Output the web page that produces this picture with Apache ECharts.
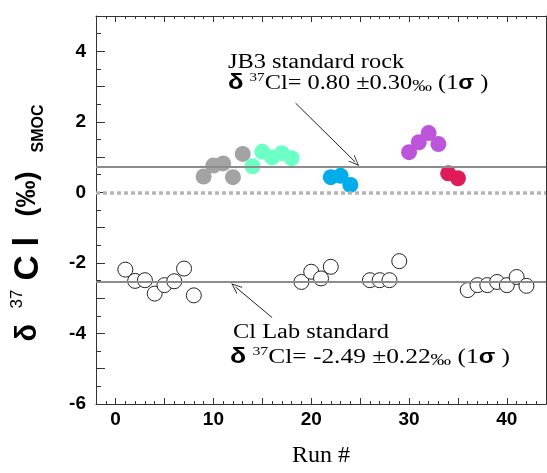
<!DOCTYPE html>
<html>
<head>
<meta charset="utf-8">
<script src="https://cdn.jsdelivr.net/npm/echarts@6/dist/echarts.min.js"></script>
<style>
  html, body { margin: 0; padding: 0; background: #fff; }
  #main { width: 547px; height: 473px; }
</style>
</head>
<body>
<div id="main"></div>
<script>
// JB3 standard rock, by colour group
var grayRuns = [9, 10, 11, 12, 13];
var grayVals = [0.45, 0.76, 0.82, 0.43, 1.09];
var greenRuns = [14, 15, 16, 17, 18];
var greenVals = [0.74, 1.15, 0.99, 1.11, 0.97];
var blueRuns = [22, 23, 24];
var blueVals = [0.43, 0.47, 0.21];
var purpleRuns = [30, 31, 32, 33];
var purpleVals = [1.14, 1.42, 1.68, 1.37];
var redRuns = [34, 35];
var redVals = [0.54, 0.40];

// Cl lab standard
var labRuns = [1, 2, 3, 4, 5, 6, 7, 8, 19, 20, 21, 22, 26, 27, 28, 29, 36, 37, 38, 39, 40, 41, 42];
var labVals = [-2.19, -2.51, -2.49, -2.87, -2.63, -2.52, -2.16, -2.92,
  -2.54, -2.25, -2.44, -2.11, -2.49, -2.49, -2.49, -1.95,
  -2.77, -2.63, -2.63, -2.54, -2.63, -2.40, -2.65];

// mean lines
var jb3Mean = 0.72;
var labMean = -2.53;
var zeroLine = 0;

var xLabels = [0, 10, 20, 30, 40];
var xMajor = [0, 5, 10, 15, 20, 25, 30, 35, 40];
var yLabels = [-6, -4, -2, 0, 2, 4];

function pairs(xs, ys) {
  var out = [];
  for (var i = 0; i < xs.length; i++) out.push([xs[i], ys[i]]);
  return out;
}

var chart = echarts.init(document.getElementById('main'));
var axisColor = '#333';
var serif = '"Liberation Serif", "DejaVu Serif", serif';
var sans = '"Liberation Sans", Arial, sans-serif';

function dotSeries(data, color) {
  return {
    type: 'scatter',
    data: data,
    symbolSize: 16,
    z: 3,
    itemStyle: { color: color, opacity: 1 }
  };
}

// second line of each note: δ 37Cl= ... ‰ (1σ )
var noteRich = {
  d: { fontFamily: sans, fontWeight: 'bold', fontSize: 22, lineHeight: 24 },
  t: { fontFamily: serif, fontSize: 21, lineHeight: 24 },
  sup: { fontFamily: serif, fontSize: 13, lineHeight: 14, verticalAlign: 'top' },
  pm: { fontFamily: serif, fontSize: 17, lineHeight: 22, verticalAlign: 'bottom' },
  s: { fontFamily: sans, fontWeight: 'bold', fontSize: 20, lineHeight: 24 }
};

var option = {
  animation: false,
  grid: { left: 96, right: 1, top: 16, bottom: 67 },
  xAxis: [{
    type: 'value', min: -2, max: 44, interval: 1, position: 'bottom',
    axisLine: { onZero: false, lineStyle: { color: axisColor, width: 1 } },
    axisTick: { inside: true, length: 3, lineStyle: { color: axisColor } },
    axisLabel: { customValues: xLabels, margin: 6, color: '#000', fontFamily: sans, fontWeight: 'bold', fontSize: 19 },
    splitLine: { show: false },
    name: 'Run #', nameLocation: 'middle', nameGap: 40,
    nameTextStyle: { fontFamily: serif, fontSize: 24, color: '#000' }
  }, {
    type: 'value', min: -2, max: 44, position: 'bottom',
    axisLine: { show: false, onZero: false },
    axisTick: { inside: true, length: 6, customValues: xMajor, lineStyle: { color: axisColor } },
    axisLabel: { show: false }, splitLine: { show: false }
  }, {
    type: 'value', min: -2, max: 44, interval: 1, position: 'top',
    axisLine: { onZero: false, lineStyle: { color: axisColor, width: 1 } },
    axisTick: { inside: true, length: 3, lineStyle: { color: axisColor } },
    axisLabel: { show: false }, splitLine: { show: false }
  }, {
    type: 'value', min: -2, max: 44, position: 'top',
    axisLine: { show: false, onZero: false },
    axisTick: { inside: true, length: 6, customValues: xMajor, lineStyle: { color: axisColor } },
    axisLabel: { show: false }, splitLine: { show: false }
  }],
  yAxis: [{
    type: 'value', min: -6, max: 5, interval: 1, position: 'left',
    axisLine: { show: true, onZero: false, lineStyle: { color: axisColor, width: 1 } },
    axisTick: { show: true, inside: true, length: 9, lineStyle: { color: axisColor } },
    minorTick: { show: true, splitNumber: 2, length: 5, lineStyle: { color: axisColor } },
    axisLabel: { customValues: yLabels, margin: 10, color: '#000', fontFamily: sans, fontWeight: 'bold', fontSize: 19 },
    splitLine: { show: false },
    name: '{d|δ}{sup|37}{c|C}{l|l}{p|(‰)}{sub|SMOC}{e| }',
    nameLocation: 'middle', nameRotate: 90, nameGap: 49,
    nameTextStyle: {
      rich: {
        d: { fontFamily: sans, fontWeight: 'bold', fontSize: 29, lineHeight: 38, width: 33, align: 'left', color: '#000' },
        sup: { fontFamily: sans, fontSize: 17, lineHeight: 20, width: 28, align: 'left', verticalAlign: 'top', color: '#000' },
        c: { fontFamily: sans, fontWeight: 'bold', fontSize: 35, lineHeight: 38, width: 34, align: 'left', color: '#000' },
        l: { fontFamily: sans, fontWeight: 'bold', fontSize: 35, lineHeight: 38, width: 30, align: 'left', color: '#000' },
        p: { fontFamily: sans, fontWeight: 'bold', fontSize: 27, lineHeight: 38, width: 64, align: 'left', color: '#000' },
        sub: { fontFamily: sans, fontWeight: 'bold', fontSize: 16, lineHeight: 18, width: 56, align: 'left', verticalAlign: 'bottom', color: '#000' },
        e: { fontSize: 10, width: 18, lineHeight: 18 }
      }
    }
  }, {
    type: 'value', min: -6, max: 5, interval: 1, position: 'right',
    axisLine: { show: true, onZero: false, lineStyle: { color: axisColor, width: 1 } },
    axisTick: { show: false }, axisLabel: { show: false }, splitLine: { show: false }
  }],
  series: [{
    type: 'line', data: [], z: 1, silent: true,
    markLine: {
      silent: true, symbol: 'none', label: { show: false }, animation: false,
      data: [
        { yAxis: jb3Mean, lineStyle: { color: '#8c8c8c', width: 2, type: 'solid' } },
        { yAxis: labMean, lineStyle: { color: '#8c8c8c', width: 2, type: 'solid' } },
        { yAxis: zeroLine, lineStyle: { color: '#b4b4b4', width: 3.5, type: [4, 3] } }
      ]
    }
  }, {
    type: 'line', data: [], z: 5, silent: true,
    markLine: {
      silent: true, label: { show: false }, animation: false,
      symbol: ['none', 'path://M0,0 L-5,10 L-4,10 L0,2 L4,10 L5,10 Z'],
      symbolSize: [9, 11],
      lineStyle: { color: '#222', width: 1, type: 'solid' },
      data: [
        [{ coord: [18.4, 2.53] }, { coord: [24.5, 0.86] }],
        [{ coord: [16.0, -3.55] }, { coord: [12.25, -2.68] }]
      ]
    }
  },
    dotSeries(pairs(grayRuns, grayVals), '#a3a3a3'),
    dotSeries(pairs(greenRuns, greenVals), '#6cffc6'),
    dotSeries(pairs(blueRuns, blueVals), '#00acea'),
    dotSeries(pairs(purpleRuns, purpleVals), '#bd55da'),
    dotSeries(pairs(redRuns, redVals), '#e01b5b'),
  {
    type: 'scatter',
    data: pairs(labRuns, labVals),
    symbolSize: 15,
    z: 3,
    itemStyle: { color: '#fff', borderColor: '#222', borderWidth: 1, opacity: 1 }
  }],
  graphic: [{
    type: 'text', x: 228, y: 53, scaleX: 1.22,
    style: { text: 'JB3 standard rock', font: '20px ' + serif, fill: '#000' }
  }, {
    type: 'text', x: 228, y: 71, scaleX: 1.16,
    style: {
      text: '{d|δ}{t| }{sup|37}{t|Cl= 0.80 ±0.30}{pm|‰}{t| (1}{s|σ}{t| )}',
      fill: '#000', rich: noteRich
    }
  }, {
    type: 'text', x: 233, y: 323, scaleX: 1.22,
    style: { text: 'Cl Lab standard', font: '20px ' + serif, fill: '#000' }
  }, {
    type: 'text', x: 230, y: 345, scaleX: 1.21,
    style: {
      text: '{d|δ}{t| }{sup|37}{t|Cl= -2.49 ±0.22}{pm|‰}{t| (1}{s|σ}{t| )}',
      fill: '#000', rich: noteRich
    }
  }]
};

chart.setOption(option);
</script>
</body>
</html>
